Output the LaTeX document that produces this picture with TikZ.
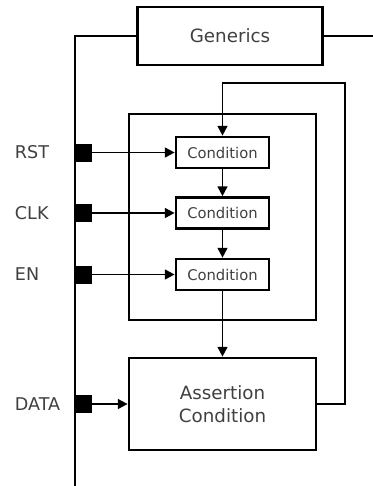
\documentclass[tikz,border=0pt]{standalone}
\usepackage{fontspec}
\setmainfont{DejaVu Sans}
\usetikzlibrary{arrows.meta}

\tikzset{
  box/.style={draw, line width=1.9pt, inner sep=0pt, align=center, text=black!75},
  cond/.style={box, minimum width=2.325cm, minimum height=0.775cm, font=\fontsize{10.5}{12}\selectfont},
  port/.style={draw, fill=black, minimum size=0.42cm, inner sep=0pt},
  sig/.style={anchor=west, text=black!75, font=\fontsize{12.5}{15}\selectfont},
  wire/.style={line width=1.3pt, -{Triangle[length=7pt,width=7pt]}},
}

\begin{document}
\begin{tikzpicture}[x=0.025cm, y=-0.025cm]
    \useasboundingbox (0,0) rectangle (373,486);
    % generics and outer frame
    \node (gen) [box, minimum width=4.625cm, minimum height=1.45cm, font=\fontsize{13}{15}\selectfont] at (230,36) {Generics};
    \coordinate (tl) at (75,36);
    \coordinate (bl) at (75,486);
    \coordinate (tr) at (373,36);
    \draw[line width=1.9pt] (tr) -- (gen.east);
    \draw[line width=1.9pt] (gen.west) -- (tl) -- (bl);

    % inner frame with the conditions
    \node (frame) [box, minimum width=4.675cm, minimum height=5.15cm] at (222.5,217) {};
    \node (c1) [cond] at (222.5,152.5) {Condition};
    \node (c2) [cond] at (222.5,213) {Condition};
    \node (c3) [cond] at (222.5,274.5) {Condition};
    \node (asrt) [box, minimum width=4.675cm, minimum height=2.3cm, font=\fontsize{13}{16}\selectfont] at (222.5,404) {Assertion\\Condition};

    % ports
    \node (prst) [port] at (83,152.5) {};
    \node (pclk) [port] at (83,213) {};
    \node (pen) [port] at (83,274.5) {};
    \node (pdata) [port] at (83,404) {};
    \node (lrst) [sig] at (10,152.5) {RST};
    \node (lclk) [sig] at (10,213) {CLK};
    \node (len) [sig] at (10,274.5) {EN};
    \node (ldata) [sig] at (10,404) {DATA};

    \draw[wire] (prst) -- (c1);
    \draw[wire] (pclk) -- (c2);
    \draw[wire] (pen) -- (c3);
    \draw[wire] (pdata) -- (asrt);
    \draw[wire] (c1) -- (c2);
    \draw[wire] (c2) -- (c3);
    \draw[wire] (c3) -- (asrt);

    % feedback
    \coordinate (fb) at (345,83);
    \draw[wire] (asrt.east) -| (fb) -| (c1.north);
\end{tikzpicture}
\end{document}
